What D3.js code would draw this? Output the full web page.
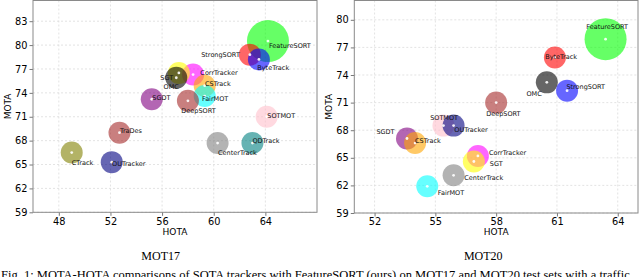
<!DOCTYPE html>
<html>
<head>
<meta charset="utf-8">
<script src="https://cdn.jsdelivr.net/npm/d3@7/dist/d3.min.js"></script>
<style>
  html, body { margin: 0; padding: 0; background: #fff; }
  svg { display: block; }
</style>
</head>
<body>
<svg id="chart" width="640" height="277"></svg>
<script>
// ---------------- DATA ----------------
// MOT17
const mot17Trackers = ["FeatureSORT","StrongSORT","ByteTrack","CorrTracker","SGT","OMC","CSTrack","FairMOT","DeepSORT","SGDT","SOTMOT","TraDes","CenterTrack","QDTrack","CTrack","OUTracker"];
const mot17HOTA = [64.2, 62.8, 63.5, 58.4, 57.3, 57.1, 59.3, 59.3, 58.0, 55.2, 64.1, 52.7, 60.3, 63.0, 49.0, 52.1];
const mot17MOTA = [80.5, 78.8, 78.2, 76.3, 76.5, 75.9, 74.9, 73.6, 73.0, 73.2, 71.0, 69.0, 67.7, 67.7, 66.5, 65.3];
const mot17XTicks = [48, 52, 56, 60, 64];
const mot17YTicks = [59, 62, 65, 68, 71, 74, 77, 80, 83];

// MOT20
const mot20Trackers = ["FeatureSORT","ByteTrack","OMC","StrongSORT","DeepSORT","SOTMOT","OUTracker","SGDT","CSTrack","CorrTracker","SGT","CenterTrack","FairMOT"];
const mot20HOTA = [63.4, 60.9, 60.5, 61.5, 58.0, 55.4, 55.9, 53.6, 54.0, 57.1, 56.9, 55.9, 54.6];
const mot20MOTA = [77.9, 75.9, 73.2, 72.3, 71.0, 68.5, 68.5, 67.1, 66.6, 65.2, 64.6, 63.1, 61.9];
const mot20XTicks = [52, 55, 58, 61, 64];
const mot20YTicks = [59, 62, 65, 68, 71, 74, 77, 80];

const panelTitles = ["MOT17", "MOT20"];
const axisLabels = { x: "HOTA", y: "MOTA" };
const caption = "Fig. 1: MOTA-HOTA comparisons of SOTA trackers with FeatureSORT (ours) on MOT17 and MOT20 test sets with a traffic";

// ---------------- STYLE / LAYOUT ----------------
const colors17 = {FeatureSORT:"lime", StrongSORT:"red", ByteTrack:"blue", CorrTracker:"magenta", SGT:"yellow", OMC:"black", CSTrack:"orange", FairMOT:"cyan", DeepSORT:"brown", SGDT:"purple", SOTMOT:"pink", TraDes:"brown", CenterTrack:"gray", QDTrack:"teal", CTrack:"olive", OUTracker:"navy"};
const colors20 = {FeatureSORT:"lime", ByteTrack:"red", OMC:"black", StrongSORT:"blue", DeepSORT:"brown", SOTMOT:"pink", OUTracker:"navy", SGDT:"purple", CSTrack:"orange", CorrTracker:"magenta", SGT:"yellow", CenterTrack:"gray", FairMOT:"cyan"};
// label offsets in px: [dx, dy(center), anchor]
const labelPos17 = {FeatureSORT:[1,5,"start"], StrongSORT:[-10,0,"end"], ByteTrack:[-1.6,8.4,"start"], CorrTracker:[7.3,-2.3,"start"], SGT:[-5.7,4.3,"end"], OMC:[-12.7,9,"start"], CSTrack:[0.3,-1.7,"start"], FairMOT:[-2.7,2.3,"start"], DeepSORT:[-6.6,10,"start"], SGDT:[0.6,-1.4,"start"], SOTMOT:[0.6,-1,"start"], TraDes:[0.4,-2,"start"], CenterTrack:[0.4,9.7,"start"], QDTrack:[0,-2.3,"start"], CTrack:[0,9.7,"start"], OUTracker:[0.3,1.7,"start"]};
const labelPos20 = {FeatureSORT:[-19.3,-12,"start"], ByteTrack:[-9.7,-0.6,"start"], OMC:[-20.4,11.6,"start"], StrongSORT:[-0.7,-4,"start"], DeepSORT:[-10,11.3,"start"], SOTMOT:[-13.3,-7.7,"start"], OUTracker:[0.7,3.7,"start"], SGDT:[-30.6,-6.7,"start"], CSTrack:[0,-2,"start"], CorrTracker:[11,-3.3,"start"], SGT:[16,2.6,"start"], CenterTrack:[10.7,2,"start"], FairMOT:[10.6,6.6,"start"]};

const panels = [
  { names: mot17Trackers, hota: mot17HOTA, mota: mot17MOTA, xTicks: mot17XTicks, yTicks: mot17YTicks,
    xDomain: [46, 68], yDomain: [59, 85.6], left: 33, right: 317, top: 0.5, bottom: 212.3,
    colors: colors17, labels: labelPos17, title: panelTitles[0], titleX: 160.7, yLabelX: 8 },
  { names: mot20Trackers, hota: mot20HOTA, mota: mot20MOTA, xTicks: mot20XTicks, yTicks: mot20YTicks,
    xDomain: [51, 65], yDomain: [59, 82.1], left: 354.3, right: 638, top: 0.5, bottom: 213,
    colors: colors20, labels: labelPos20, title: panelTitles[1], titleX: 483.3, yLabelX: 329.3 }
];

const svg = d3.select("#chart");
const sans = "DejaVu Sans, sans-serif";
const serif = "Liberation Serif, Times New Roman, serif";

panels.forEach(p => {
  const x = d3.scaleLinear().domain(p.xDomain).range([p.left, p.right]);
  const y = d3.scaleLinear().domain(p.yDomain).range([p.bottom, p.top]);
  const g = svg.append("g");

  // grid
  g.append("g").selectAll("line.gx").data(p.xTicks).join("line")
    .attr("x1", d => x(d)).attr("x2", d => x(d)).attr("y1", p.top).attr("y2", p.bottom)
    .attr("stroke", "#dcdcdc").attr("stroke-width", 0.8).attr("stroke-dasharray", "2,2");
  g.append("g").selectAll("line.gy").data(p.yTicks).join("line")
    .attr("x1", p.left).attr("x2", p.right).attr("y1", d => y(d)).attr("y2", d => y(d))
    .attr("stroke", "#dcdcdc").attr("stroke-width", 0.8).attr("stroke-dasharray", "2,2");

  // axes
  const xAxis = d3.axisBottom(x).tickValues(p.xTicks).tickSize(3.5).tickPadding(2);
  const yAxis = d3.axisLeft(y).tickValues(p.yTicks).tickSize(3.5).tickPadding(2);
  const gx = g.append("g").attr("transform", `translate(0,${p.bottom})`).call(xAxis);
  const gy = g.append("g").attr("transform", `translate(${p.left},0)`).call(yAxis);
  [gx, gy].forEach(a => {
    a.select(".domain").remove();
    a.selectAll(".tick line").attr("stroke", "#555").attr("stroke-width", 0.8);
    a.selectAll(".tick text").attr("fill", "#000").attr("font-family", sans).attr("font-size", 9.8);
  });

  // bubbles
  const data = p.names.map((n, i) => ({ name: n, h: p.hota[i], m: p.mota[i] }));
  g.append("g").selectAll("circle.b").data(data).join("circle")
    .attr("cx", d => x(d.h)).attr("cy", d => y(d.m))
    .attr("r", d => d.name === "FeatureSORT" ? 21 : 11)
    .attr("fill", d => p.colors[d.name]).attr("fill-opacity", 0.6);
  g.append("g").selectAll("circle.w").data(data).join("circle")
    .attr("cx", d => x(d.h)).attr("cy", d => y(d.m)).attr("r", 1.4)
    .attr("fill", "#fff").attr("fill-opacity", 0.9);
  g.append("g").selectAll("text").data(data).join("text")
    .attr("x", d => x(d.h) + p.labels[d.name][0])
    .attr("y", d => y(d.m) + p.labels[d.name][1])
    .attr("dy", "0.35em")
    .attr("text-anchor", d => p.labels[d.name][2])
    .attr("font-family", sans).attr("font-size", 6.5).attr("fill", "#111")
    .text(d => d.name);

  // frame
  g.append("rect").attr("x", p.left).attr("y", p.top)
    .attr("width", p.right - p.left).attr("height", p.bottom - p.top)
    .attr("fill", "none").attr("stroke", "#8a8a8a").attr("stroke-width", 1);

  // axis labels
  g.append("text").attr("x", (p.left + p.right) / 2).attr("y", 231.7).attr("dy", "0.35em")
    .attr("text-anchor", "middle").attr("font-family", sans).attr("font-size", 9).text(axisLabels.x);
  g.append("text").attr("transform", `translate(${p.yLabelX},${(p.top + p.bottom) / 2}) rotate(-90)`)
    .attr("dy", "0.35em").attr("text-anchor", "middle").attr("font-family", sans).attr("font-size", 9)
    .text(axisLabels.y);

  // title
  g.append("text").attr("x", p.titleX).attr("y", 256).attr("dy", "0.35em")
    .attr("text-anchor", "middle").attr("font-family", serif).attr("font-size", 12).text(p.title);
});

svg.append("text").attr("x", 1).attr("y", 278.5).attr("font-family", serif).attr("font-size", 12.5)
  .attr("fill", "#000").text(caption);
</script>
</body>
</html>
